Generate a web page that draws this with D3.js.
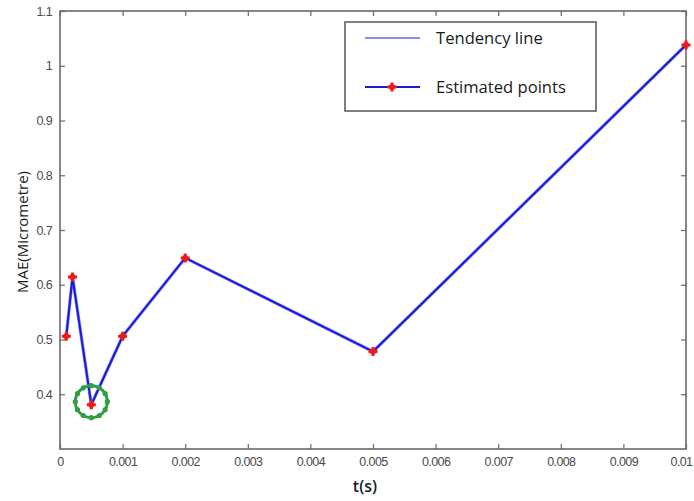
<!DOCTYPE html>
<html>
<head>
<meta charset="utf-8">
<script src="https://cdn.jsdelivr.net/npm/d3@7/dist/d3.min.js"></script>
<style>
  html, body { margin: 0; padding: 0; background: #fff; }
  svg { display: block; }
</style>
</head>
<body>
<svg id="chart" width="694" height="501"></svg>
<script>
// ---- data ----
const times = [0.0001, 0.0002, 0.0005, 0.001, 0.002, 0.005, 0.01];
const mae = [0.506, 0.614, 0.381, 0.506, 0.649, 0.478, 1.038];
const xTickValues = [0, 0.001, 0.002, 0.003, 0.004, 0.005, 0.006, 0.007, 0.008, 0.009, 0.01];
const xTickLabels = ["0", "0.001", "0.002", "0.003", "0.004", "0.005", "0.006", "0.007", "0.008", "0.009", "0.01"];
const yTickValues = [0.4, 0.5, 0.6, 0.7, 0.8, 0.9, 1.0, 1.1];
const yTickLabels = ["0.4", "0.5", "0.6", "0.7", "0.8", "0.9", "1", "1.1"];
const legendLabels = ["Tendency line", "Estimated points"];
const highlightIndex = 2;
const xLabel = "t(s)";
const yLabel = "MAE(Micrometre)";

// ---- layout ----
const svg = d3.select("#chart");
const L = 60, R = 686, T = 11, B = 449;
const x = d3.scaleLinear().domain([0, 0.01]).range([L, R]);
const y = d3.scaleLinear().domain([0.3, 1.1]).range([B, T]);

const frameColor = "#6a6a6a";
const tickColor = "#4a4a4a";
const tickFont = "'Liberation Sans', Arial, sans-serif";
const textFont = "'Open Sans', 'Noto Sans', sans-serif";

// axes (bottom/left with labels, top/right mirror ticks)
const xAxis = d3.axisBottom(x).tickValues(xTickValues)
  .tickFormat((d, i) => xTickLabels[i]).tickSizeInner(-5).tickSizeOuter(0).tickPadding(8);
const yAxis = d3.axisLeft(y).tickValues(yTickValues)
  .tickFormat((d, i) => yTickLabels[i]).tickSizeInner(-5).tickSizeOuter(0).tickPadding(8);
const xTop = d3.axisTop(x).tickValues(xTickValues).tickFormat("").tickSizeInner(-5).tickSizeOuter(0);
const yRight = d3.axisRight(y).tickValues(yTickValues).tickFormat("").tickSizeInner(-5).tickSizeOuter(0);

function styleAxis(g) {
  g.select(".domain").remove();
  g.selectAll(".tick line").attr("stroke", frameColor).attr("stroke-width", 1.2);
  g.selectAll(".tick text").attr("fill", tickColor)
    .style("font-family", tickFont).style("font-size", "12.5px").style("letter-spacing", "-0.6px");
}

const gx = svg.append("g").attr("transform", `translate(0,${B})`).call(xAxis).call(styleAxis);
// keep the last label inside the picture
gx.selectAll(".tick text").filter((d, i) => i === xTickValues.length - 1).attr("dx", "-5");
svg.append("g").attr("transform", `translate(${L},0)`).call(yAxis).call(styleAxis);
svg.append("g").attr("transform", `translate(0,${T})`).call(xTop).call(styleAxis);
svg.append("g").attr("transform", `translate(${R},0)`).call(yRight).call(styleAxis);

// frame
svg.append("rect").attr("x", L).attr("y", T).attr("width", R - L).attr("height", B - T)
  .attr("fill", "none").attr("stroke", frameColor).attr("stroke-width", 1.6);

// lines
const line = d3.line().x((d, i) => x(times[i])).y(d => y(d));
svg.append("path").datum(mae).attr("d", line).attr("fill", "none")
  .attr("stroke", "#8a8aff").attr("stroke-width", 3.2);
svg.append("path").datum(mae).attr("d", line).attr("fill", "none")
  .attr("stroke", "#1c1cd4").attr("stroke-width", 2);

// highlight circle (green dotted ring)
const hx = x(times[highlightIndex]), hy = y(mae[highlightIndex]) - 3;
const ringR = 16;
const green = "#2f9e45";
svg.append("circle").attr("cx", hx).attr("cy", hy).attr("r", ringR)
  .attr("fill", "none").attr("stroke", green).attr("stroke-width", 3);
const bumps = d3.range(12).map(k => k * Math.PI * 2 / 12);
svg.selectAll(".bump").data(bumps).enter().append("circle")
  .attr("cx", a => hx + ringR * Math.cos(a)).attr("cy", a => hy + ringR * Math.sin(a))
  .attr("r", 2.6).attr("fill", green);

// markers
function marker(g, cx, cy) {
  g.append("circle").attr("cx", cx).attr("cy", cy).attr("r", 3).attr("fill", "#f01818");
  g.append("path").attr("transform", `translate(${cx},${cy})`)
    .attr("d", d3.symbol().type(d3.symbolCross).size(45)()).attr("fill", "#f01818");
}
const mg = svg.append("g");
mae.forEach((v, i) => marker(mg, x(times[i]), y(v)));

// legend
const lg = svg.append("g");
lg.append("rect").attr("x", 345).attr("y", 22).attr("width", 251).attr("height", 89)
  .attr("fill", "#fff").attr("stroke", "#555").attr("stroke-width", 1.5);
lg.append("line").attr("x1", 365).attr("x2", 420).attr("y1", 38).attr("y2", 38)
  .attr("stroke", "#8a8aff").attr("stroke-width", 2);
lg.append("line").attr("x1", 365).attr("x2", 420).attr("y1", 87).attr("y2", 87)
  .attr("stroke", "#1c1cd4").attr("stroke-width", 2);
marker(lg, 392, 87);
lg.selectAll(".lt").data(legendLabels).enter().append("text")
  .attr("x", 436).attr("y", (d, i) => 44 + i * 49)
  .attr("fill", "#1a1a1a").style("font-family", textFont).style("font-size", "16.6px")
  .text(d => d);

// axis labels
svg.append("text").attr("x", 365).attr("y", 492).attr("text-anchor", "middle")
  .attr("fill", "#1a1a1a").style("font-family", textFont).style("font-size", "16px")
  .style("font-weight", "600").text(xLabel);
svg.append("text").attr("transform", "translate(28,232) rotate(-90)").attr("text-anchor", "middle")
  .attr("fill", "#1a1a1a").style("font-family", textFont).style("font-size", "15px")
  .text(yLabel);
</script>
</body>
</html>
